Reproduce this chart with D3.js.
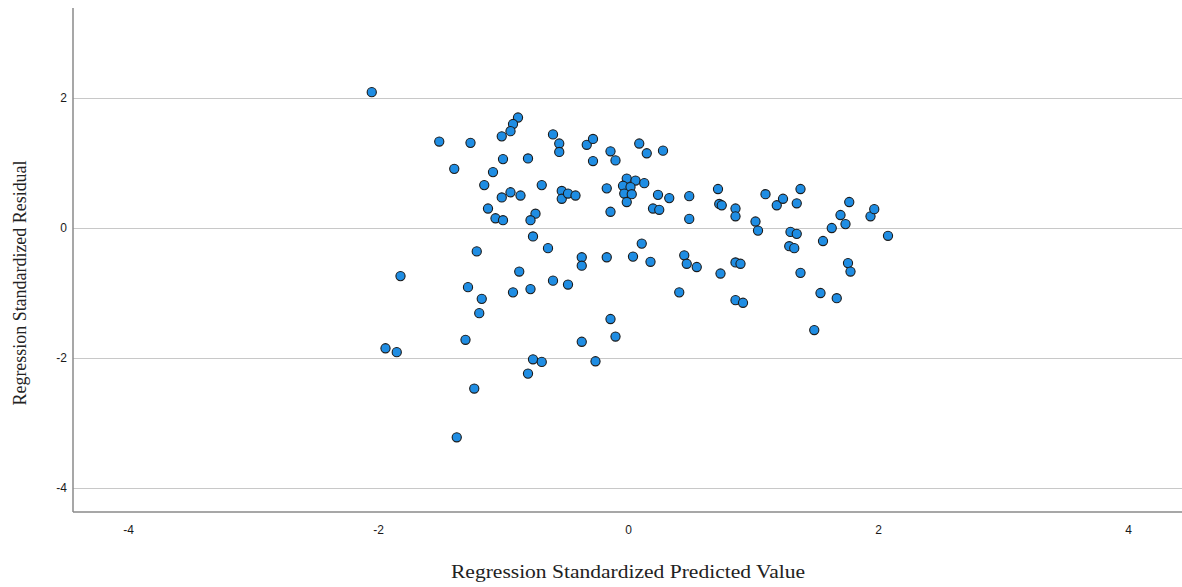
<!DOCTYPE html>
<html>
<head>
<meta charset="utf-8">
<script src="https://cdn.jsdelivr.net/npm/d3@7"></script>
<style>
  body { margin: 0; background: #fff; }
  .tick text { font-family: "Liberation Sans", Arial, sans-serif; font-size: 12px; fill: #1a1a1a; }
  .axis-title { font-family: "Liberation Serif", "Times New Roman", serif; font-size: 19px; fill: #222; }
</style>
</head>
<body>
<div id="chart"></div>
<script>
/* DATA */
// predicted value (x) and residual (y)
const predicted = [
  -2.05, -1.51, -1.26, -1.39, -0.88, -0.92, -0.94, -1.01, -1.00, -0.80,
  -1.08, -1.15, -0.94, -1.01, -0.86, -1.12, -1.06, -1.00, -0.74, -0.78,
  -0.69, -1.21, -0.76, -0.87, -1.82, -1.28, -1.17, -0.92, -0.78, -1.19,
  -1.30, -1.94, -1.85, -1.23, -1.37, -0.76, -0.69, -0.80, -0.60, -0.55,
  -0.55, -0.33, -0.28, -0.28, -0.14, -0.10, 0.09, 0.15, 0.28, -0.01,
  0.06, 0.13, -0.04, 0.02, -0.03, 0.03, -0.01, -0.17, -0.14, 0.20,
  0.25, 0.24, 0.33, 0.49, 0.49, -0.53, -0.53, -0.48, -0.42, -0.64,
  -0.37, -0.37, -0.17, 0.04, 0.11, 0.18, 0.45, 0.47, 0.55, -0.60,
  -0.48, 0.41, -0.14, -0.10, -0.37, -0.26, 0.72, 0.73, 0.75, 0.86,
  0.86, 1.02, 1.04, 1.10, 1.19, 1.24, 1.35, 1.38, 1.30, 1.35,
  1.29, 1.33, 1.56, 1.63, 1.70, 1.74, 1.77, 1.94, 1.97, 2.08,
  0.86, 0.90, 0.74, 1.38, 1.76, 1.78, 0.86, 0.92, 1.54, 1.67,
  1.49
];
const residual = [
  2.09, 1.33, 1.31, 0.91, 1.70, 1.60, 1.49, 1.41, 1.06, 1.07,
  0.86, 0.66, 0.55, 0.47, 0.50, 0.30, 0.15, 0.12, 0.22, 0.12,
  0.66, -0.36, -0.13, -0.67, -0.74, -0.91, -1.09, -0.99, -0.94, -1.31,
  -1.72, -1.85, -1.91, -2.47, -3.22, -2.02, -2.06, -2.24, 1.44, 1.30,
  1.17, 1.28, 1.37, 1.03, 1.18, 1.04, 1.30, 1.15, 1.19, 0.76,
  0.73, 0.69, 0.65, 0.63, 0.53, 0.52, 0.40, 0.61, 0.25, 0.30,
  0.28, 0.51, 0.46, 0.49, 0.14, 0.57, 0.45, 0.53, 0.50, -0.31,
  -0.45, -0.58, -0.45, -0.44, -0.24, -0.52, -0.42, -0.55, -0.60, -0.81,
  -0.87, -0.99, -1.40, -1.67, -1.75, -2.05, 0.60, 0.37, 0.35, 0.30,
  0.18, 0.10, -0.04, 0.52, 0.35, 0.45, 0.38, 0.60, -0.06, -0.09,
  -0.28, -0.31, -0.20, 0.00, 0.20, 0.06, 0.40, 0.18, 0.29, -0.12,
  -0.53, -0.55, -0.70, -0.69, -0.54, -0.67, -1.11, -1.15, -1.00, -1.08,
  -1.57
];
const xTicks = [-4, -2, 0, 2, 4];
const yTicks = [-4, -2, 0, 2];

const points = predicted.map((x, i) => ({ x: x, y: residual[i] }));

/* LAYOUT */
const width = 1182,
  height = 587,
  margin = { top: 8, right: 0, bottom: 75, left: 73 };

const svg = d3.select("#chart")
  .append("svg")
  .attr("width", width)
  .attr("height", height);

// 125 px per unit on x, 65 px per unit on y
const xScale = d3.scaleLinear()
  .domain([-4.44, 4.432])
  .range([margin.left, width - margin.right]);

const yScale = d3.scaleLinear()
  .domain([-4.369, 3.385])
  .range([height - margin.bottom, margin.top]);

// plain hyphen for negatives, like the original
const fmt = d => String(d);

// gridlines
svg.append("g")
  .attr("class", "grid")
  .attr("transform", `translate(${margin.left},0)`)
  .call(d3.axisLeft(yScale).tickValues(yTicks).tickSize(-(width - margin.left - margin.right)).tickFormat(""))
  .call(g => g.select(".domain").remove())
  .call(g => g.selectAll("line").attr("stroke", "#c8c8c8").attr("stroke-width", 1.2));

// y axis labels
svg.append("g")
  .attr("class", "axis y-axis")
  .attr("transform", `translate(${margin.left},0)`)
  .call(d3.axisLeft(yScale).tickValues(yTicks).tickSize(0).tickPadding(6).tickFormat(fmt))
  .call(g => g.select(".domain").remove());

// x axis labels
svg.append("g")
  .attr("class", "axis x-axis")
  .attr("transform", `translate(0,${height - margin.bottom})`)
  .call(d3.axisBottom(xScale).tickValues(xTicks).tickSize(0).tickPadding(13).tickFormat(fmt))
  .call(g => g.select(".domain").remove());

// axis lines
svg.append("line")
  .attr("x1", margin.left).attr("x2", margin.left)
  .attr("y1", margin.top).attr("y2", height - margin.bottom)
  .attr("stroke", "#8a8a8a").attr("stroke-width", 1.5);
svg.append("line")
  .attr("x1", margin.left).attr("x2", width - margin.right)
  .attr("y1", height - margin.bottom).attr("y2", height - margin.bottom)
  .attr("stroke", "#8a8a8a").attr("stroke-width", 1.5);

// points
svg.append("g")
  .selectAll("circle")
  .data(points)
  .join("circle")
  .attr("cx", d => xScale(d.x))
  .attr("cy", d => yScale(d.y))
  .attr("r", 4.6)
  .attr("fill", "#1f8de3")
  .attr("stroke", "#1b1b1b")
  .attr("stroke-width", 1.1);

// axis titles
svg.append("text")
  .attr("class", "axis-title")
  .attr("x", xScale(0))
  .attr("y", 578)
  .attr("text-anchor", "middle")
  .attr("textLength", 354)
  .attr("lengthAdjust", "spacingAndGlyphs")
  .text("Regression Standardized Predicted Value");

svg.append("text")
  .attr("class", "axis-title")
  .attr("transform", `translate(26,283) rotate(-90)`)
  .attr("text-anchor", "middle")
  .attr("textLength", 245)
  .attr("lengthAdjust", "spacingAndGlyphs")
  .text("Regression Standardized Residual");
</script>
</body>
</html>
